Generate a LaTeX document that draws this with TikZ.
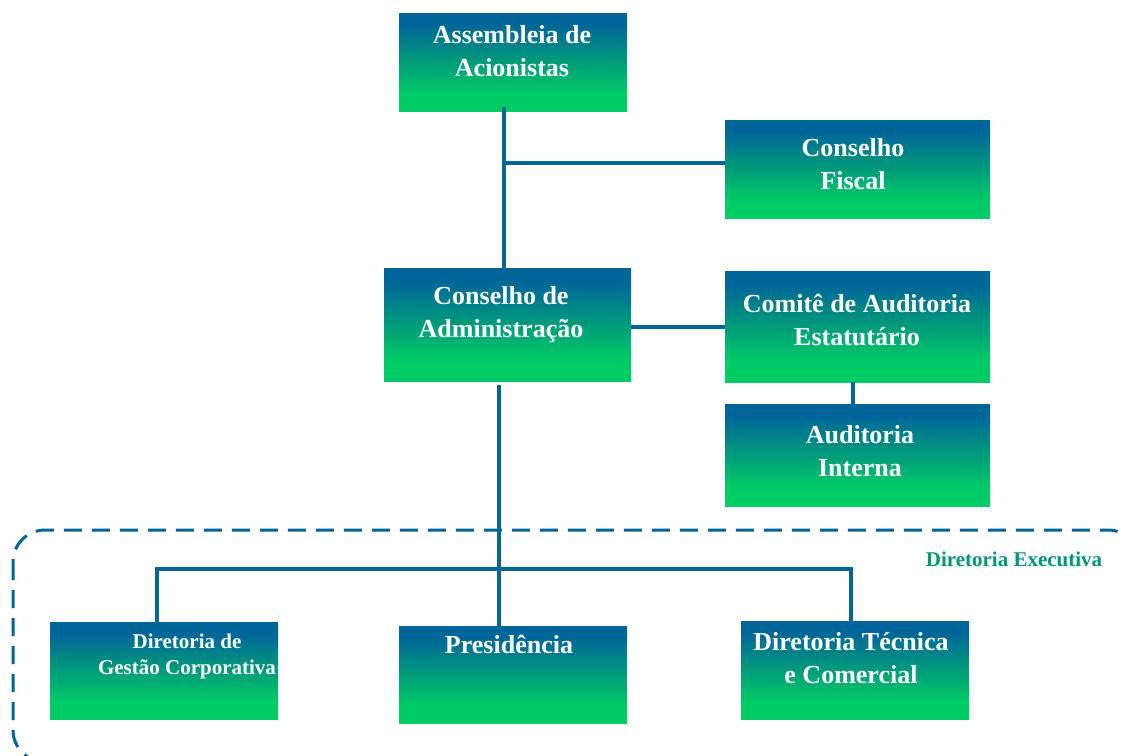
\documentclass[tikz,border=0pt]{standalone}
\usepackage{fontspec}
\setmainfont{Liberation Serif}
\definecolor{gboxb}{RGB}{0,102,153}
\definecolor{gboxm}{RGB}{0,150,125}
\definecolor{gboxg}{RGB}{0,204,102}
\definecolor{lineblue}{RGB}{0,102,153}
\definecolor{exectxt}{RGB}{0,150,120}
\pgfdeclareverticalshading{orgbox}{100bp}{color(0bp)=(gboxg); color(25bp)=(gboxg); color(34bp)=(gboxg); color(52bp)=(gboxm); color(69bp)=(gboxb); color(75bp)=(gboxb); color(100bp)=(gboxb)}
\tikzset{
  orgbox/.style={rectangle, shading=orgbox, draw=none, inner sep=0pt, outer sep=0pt},
  bigtxt/.style={text=white, font=\fontsize{26}{33}\selectfont\bfseries, align=center, inner sep=0pt},
  smalltxt/.style={text=white, font=\fontsize{21}{26}\selectfont\bfseries, align=center, inner sep=0pt},
  conn/.style={draw=lineblue, line width=4pt},
  dashbox/.style={draw=lineblue, line width=3pt, dash pattern=on 18pt off 10pt, rounded corners=32pt}
}
\begin{document}
\begin{tikzpicture}[x=1pt,y=-1pt]
\useasboundingbox (0,0) rectangle (1121,755);
\clip (0,0) rectangle (1121,755);
\fill[white] (0,0) rectangle (1121,755);
% dashed group
\draw[dashbox] (13,530) rectangle (1140,762);
\node[text=exectxt, font=\fontsize{21}{26}\selectfont\bfseries, inner sep=0pt] (exe) at (1014,559) {Diretoria Executiva};
% boxes
\node[orgbox, minimum width=228pt, minimum height=98pt] (asm) at (513,62) {};
\node[orgbox, minimum width=265pt, minimum height=98pt] (cf) at (857.5,169) {};
\node[orgbox, minimum width=247pt, minimum height=113pt] (cad) at (507.5,324.5) {};
\node[orgbox, minimum width=265pt, minimum height=111pt] (com) at (857.5,326.5) {};
\node[orgbox, minimum width=265pt, minimum height=102pt] (ai) at (857.5,455) {};
\node[orgbox, minimum width=228pt, minimum height=97pt] (dgc) at (164,670.5) {};
\node[orgbox, minimum width=228pt, minimum height=97pt] (pres) at (513,674.5) {};
\node[orgbox, minimum width=228pt, minimum height=98pt] (dtc) at (855,670) {};
% texts
\node[bigtxt] (tasm) at (512,51.5) {Assembleia de\\Acionistas};
\node[bigtxt] (tcf) at (853,164.5) {Conselho\\Fiscal};
\node[bigtxt] (tcad) at (501,315) {Conselho de\\Administração};
\node[bigtxt] (tcom) at (857,320) {Comitê de Auditoria\\Estatutário};
\node[bigtxt] (tai) at (860,451) {Auditoria\\Interna};
\node[smalltxt] (tdgc) at (187,656) {Diretoria de\\Gestão Corporativa};
\node[bigtxt] (tpres) at (509,644) {Presidência};
\node[bigtxt] (tdtc) at (851,658) {Diretoria Técnica\\e Comercial};
% junction coordinates
\coordinate (j1) at (504,163);
\coordinate (j2) at (680,327);
\coordinate (j3) at (853,393);
\coordinate (j4) at (499,569);
\coordinate (jl) at (157,569);
\coordinate (jr) at (851,569);
% connectors
\draw[conn] ([yshift=4pt]asm.south -| j1) -- (cad.north -| j1);
\draw[conn] (j1) -- (cf.west |- j1);
\draw[conn] (cad.east |- j2) -- (com.west |- j2);
\draw[conn] (com.south -| j3) -- (ai.north -| j3);
\draw[conn] ([yshift=-4pt]cad.south -| j4) -- (pres.north -| j4);
\draw[conn] (dgc.north -| jl) -- (jl) -- (jr) -- (dtc.north -| jr);
\end{tikzpicture}
\end{document}
